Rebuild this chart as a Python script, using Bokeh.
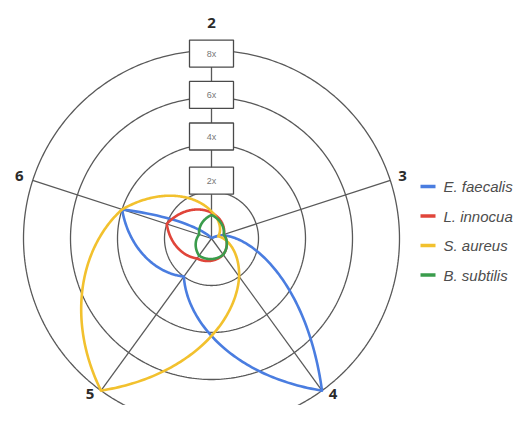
import numpy as np
from bokeh.plotting import figure
from bokeh.models import Range1d
from bokeh.core.properties import value
from bokeh.embed import file_html
from bokeh.resources import INLINE

# ---------------- data ----------------
axis_labels = ["2", "3", "4", "5", "6"]
axis_angles = [0, 72, 144, 216, 288]          # degrees, clockwise from top
ring_values = [2, 4, 6, 8]
ring_labels = ["2x", "4x", "6x", "8x"]
series_names = ["E. faecalis", "L. innocua", "S. aureus", "B. subtilis"]
e_faecalis = [0.0, 0.45, 8.0, 2.0, 4.0]
l_innocua = [1.1, 0.55, 0.85, 1.05, 2.0]
s_aureus = [1.15, 0.3, 2.0, 8.0, 4.0]
b_subtilis = [1.0, 0.55, 0.85, 0.9, 0.55]
series_values = [e_faecalis, l_innocua, s_aureus, b_subtilis]
series_colors = ["#4a7de0", "#e0453a", "#f2c12e", "#3a9c4c"]

# ---------------- layout ----------------
W, H = 515, 405
U = 23.5                 # pixels per unit
CX, CY = 211, 238        # centre in canvas pixels

def px_x(x):
    return (x - CX) / U

def px_y(y):
    return (CY - y) / U

p = figure(width=W, height=H, output_backend="svg", toolbar_location=None,
           x_range=Range1d(px_x(0), px_x(W)), y_range=Range1d(px_y(H), px_y(0)),
           x_axis_type=None, y_axis_type=None, min_border=0,
           background_fill_color="white", border_fill_color="white")
p.grid.visible = False
p.outline_line_color = None

grid_col = "#595959"
rmax = max(ring_values)

# rings
for rv in ring_values:
    a = np.radians(np.linspace(0, 360, 361))
    p.line(rv * np.sin(a), rv * np.cos(a), line_color=grid_col, line_width=1.3)

# spokes
ang = np.radians(axis_angles)
p.segment(x0=[0] * 5, y0=[0] * 5, x1=list(rmax * np.sin(ang)), y1=list(rmax * np.cos(ang)),
          line_color=grid_col, line_width=1.3)

# ring label boxes on the top spoke
box_r = [2.46, 4.34, 6.11, 7.87]
p.rect(x=[0] * 4, y=box_r, width=44, height=27, width_units="screen", height_units="screen",
       fill_color="white", line_color="#4a4a4a", line_width=1.3)
p.text(x=[0] * 4, y=box_r, text=ring_labels, text_align="center", text_baseline="middle",
       text_font=value("Liberation Sans"), text_font_size="9px", text_color="#777777")

# series curves
P = 0.15
def curve(vals, n=90):
    k = len(vals)
    xs, ys = [], []
    for i in range(k):
        r0, r1 = vals[i], vals[(i + 1) % k]
        a0 = axis_angles[i]
        a1 = a0 + 360.0 / k
        t = np.linspace(0, 1, n)
        r = ((1 - t) * r0 ** P + t * r1 ** P) ** (1 / P)
        a = np.radians(a0 + (a1 - a0) * t)
        xs.extend(r * np.sin(a))
        ys.extend(r * np.cos(a))
    return xs, ys

for vals, col in zip(series_values, series_colors):
    xs, ys = curve(vals)
    p.line(xs, ys, line_color=col, line_width=2.6, line_join="round")

# axis labels
label_r = [9.15, 8.55, 8.8, 8.8, 8.6]
label_dy = [0, 0, -12, -12, 0]
lx = [r * np.sin(a) for r, a in zip(label_r, ang)]
ly = [r * np.cos(a) for r, a in zip(label_r, ang)]
p.text(x=lx, y=ly, y_offset=label_dy, text=axis_labels, text_align="center",
       text_baseline="middle", text_font=value("Open Sans"), text_font_style="bold",
       text_font_size="15px", text_color="#2b2b2b")

# legend
leg_y = [186, 215.5, 245, 274.5]
p.segment(x0=[px_x(420)] * 4, x1=[px_x(435)] * 4, y0=[px_y(y) for y in leg_y],
          y1=[px_y(y) for y in leg_y], line_color=series_colors, line_width=3.5)
p.text(x=[px_x(443)] * 4, y=[px_y(y) for y in leg_y], text=series_names,
       text_align="left", text_baseline="middle", text_font=value("Liberation Sans"),
       text_font_style="italic", text_font_size="15px", text_color="#4d4d4d")

open("out.html", "w").write(file_html(p, INLINE))
